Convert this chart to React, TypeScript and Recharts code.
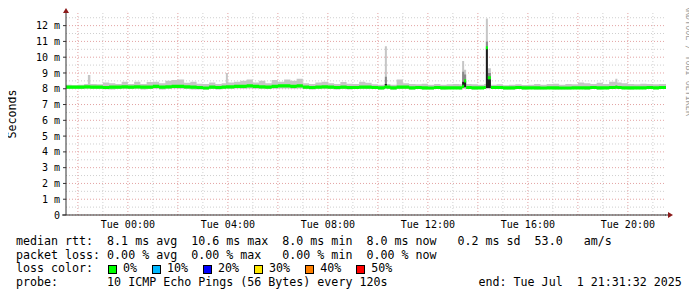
import React from "react";
import { Area, CartesianGrid, ComposedChart, ReferenceDot, XAxis, YAxis } from "recharts";

// Smokeping latency graph: 24h window ending Tue Jul 1 21:31:32.
// x = hours relative to Tue 00:00, y = milliseconds.

const hours = [
  -2.475, -2.25, -2, -1.75, -1.6, -1.5, -1.25, -1, -0.75, -0.5, -0.25,
  0, 0.25, 0.5, 0.75, 1, 1.25, 1.5, 1.75, 2, 2.25, 2.5, 2.75, 3, 3.25, 3.5, 3.75, 3.92,
  4, 4.25, 4.5, 4.75, 5, 5.25, 5.5, 5.75, 6, 6.25, 6.5, 6.75, 7, 7.25, 7.5, 7.75,
  8, 8.25, 8.5, 8.75, 9, 9.25, 9.5, 9.75, 10, 10.25, 10.28, 10.36, 10.5, 10.75, 11, 11.25, 11.5, 11.75,
  12, 12.25, 12.5, 12.75, 13, 13.25, 13.37, 13.45, 13.53, 13.75, 14, 14.25, 14.32, 14.4, 14.52, 14.75,
  15, 15.25, 15.5, 15.75, 16, 16.25, 16.5, 16.75, 17, 17.25, 17.5, 17.75,
  18, 18.25, 18.5, 18.75, 19, 19.25, 19.5, 19.58, 19.75,
  20, 20.25, 20.5, 20.75, 21, 21.25, 21.5, 21.525,
];

// outer smoke (all pings) top / bottom
const smokeHigh = [
  8.25, 8.22, 8.25, 8.3, 8.87, 8.3, 8.28, 8.4, 8.35, 8.3, 8.45,
  8.3, 8.45, 8.3, 8.42, 8.45, 8.35, 8.5, 8.55, 8.58, 8.38, 8.45, 8.32, 8.3, 8.4, 8.3, 8.35, 9.0,
  8.4, 8.45, 8.5, 8.58, 8.4, 8.5, 8.35, 8.55, 8.45, 8.58, 8.5, 8.64, 8.35, 8.3, 8.4, 8.45,
  8.35, 8.3, 8.42, 8.32, 8.3, 8.45, 8.38, 8.28, 8.25, 8.3, 10.7, 8.3, 8.25, 8.58, 8.35, 8.3, 8.28, 8.32,
  8.25, 8.3, 8.25, 8.28, 8.3, 8.28, 9.76, 9.2, 8.3, 8.28, 8.25, 8.3, 12.45, 9.3, 8.25, 8.28,
  8.22, 8.25, 8.28, 8.24, 8.26, 8.3, 8.25, 8.3, 8.32, 8.25, 8.3, 8.28,
  8.4, 8.35, 8.3, 8.38, 8.3, 8.45, 8.64, 8.4, 8.35,
  8.3, 8.28, 8.32, 8.3, 8.28, 8.3, 8.3, 8.3,
];

const smokeLow = [
  8.0, 8.0, 7.98, 8.0, 8.0, 8.0, 7.98, 7.97, 7.95, 7.98, 8.0,
  7.98, 8.0, 7.95, 7.98, 8.0, 7.95, 8.0, 8.02, 8.0, 7.98, 7.96, 7.95, 7.95, 7.98, 7.96, 8.0, 8.02,
  8.0, 8.02, 8.0, 8.02, 8.0, 8.0, 7.98, 8.0, 8.02, 8.02, 8.0, 8.02, 7.98, 7.96, 8.0, 8.0,
  7.98, 7.95, 7.98, 7.96, 7.98, 8.0, 7.98, 7.98, 7.96, 7.98, 8.0, 7.98, 7.96, 7.98, 8.0, 7.96, 7.98, 7.95,
  7.96, 7.98, 7.96, 7.98, 7.98, 7.96, 8.0, 8.0, 7.98, 7.96, 7.98, 7.98, 8.0, 8.0, 7.98, 7.98,
  7.96, 7.96, 7.98, 7.96, 7.98, 7.96, 7.95, 7.98, 7.96, 7.95, 7.96, 7.98,
  7.98, 7.96, 7.98, 7.96, 7.98, 8.0, 8.0, 7.98, 7.98,
  7.96, 7.98, 7.98, 7.98, 7.98, 8.0, 8.0, 8.0,
];

const medianRtt = [
  8.1, 8.1, 8.1, 8.12, 8.12, 8.1, 8.1, 8.08, 8.1, 8.1, 8.12,
  8.1, 8.12, 8.1, 8.1, 8.15, 8.1, 8.12, 8.15, 8.15, 8.12, 8.1, 8.08, 8.05, 8.1, 8.08, 8.1, 8.12,
  8.12, 8.15, 8.15, 8.18, 8.15, 8.12, 8.1, 8.15, 8.18, 8.18, 8.15, 8.18, 8.1, 8.08, 8.1, 8.12,
  8.1, 8.08, 8.1, 8.08, 8.08, 8.1, 8.1, 8.08, 8.06, 8.08, 8.12, 8.1, 8.06, 8.1, 8.1, 8.06, 8.08, 8.06,
  8.05, 8.08, 8.06, 8.06, 8.06, 8.06, 8.15, 8.5, 8.08, 8.06, 8.06, 8.08, 10.6, 8.7, 8.08, 8.08,
  8.06, 8.06, 8.08, 8.06, 8.06, 8.06, 8.05, 8.06, 8.06, 8.05, 8.05, 8.06,
  8.06, 8.06, 8.08, 8.06, 8.06, 8.08, 8.1, 8.08, 8.06,
  8.06, 8.06, 8.06, 8.08, 8.06, 8.08, 8.08, 8.08,
];

// denser smoke layers inside the latency spikes
const spikeStart = [10.28, 13.37, 13.45, 14.32, 14.4];
const spikeEnd = [10.36, 13.45, 13.53, 14.4, 14.52];
const spikeMidLow = [8.2, 8.45, 8.2, 10.56, 8.2];
const spikeMidHigh = [8.76, 9.08, 8.9, 11.0, 9.0];
const spikeDarkLow = [8.1, 8.1, 8.1, 8.05, 8.05];
const spikeDarkHigh = [8.3, 8.45, 8.5, 10.56, 8.6];

const yTicks = [0, 1, 2, 3, 4, 5, 6, 7, 8, 9, 10, 11, 12];
const yMinorTicks = [0.5, 1.5, 2.5, 3.5, 4.5, 5.5, 6.5, 7.5, 8.5, 9.5, 10.5, 11.5, 12.5];
const xLabelTicks = [0, 4, 8, 12, 16, 20];
const xMajorTicks = [-2, 0, 2, 4, 6, 8, 10, 12, 14, 16, 18, 20];
const xMinorTicks = [-1, 1, 3, 5, 7, 9, 11, 13, 15, 17, 19, 21];

const lossLabels = ["0%", "10%", "20%", "30%", "40%", "50%"];
const lossColors = ["#00ff00", "#00b8ff", "#0000ff", "#ffe800", "#ff8000", "#ff0000"];

const legendLines = [
  "median rtt:  8.1 ms avg  10.6 ms max  8.0 ms min  8.0 ms now   0.2 ms sd  53.0   am/s",
  "packet loss: 0.00 % avg  0.00 % max   0.00 % min  0.00 % now",
];
const probeLine = "probe:       10 ICMP Echo Pings (56 Bytes) every 120s             end: Tue Jul  1 21:31:32 2025";

const X_DOMAIN: [number, number] = [-2.475, 21.525];
const Y_DOMAIN: [number, number] = [0, 12.8];
const MONO = '"DejaVu Sans Mono", monospace';

function spikeAt(t: number): number {
  let i = spikeStart.indexOf(t);
  if (i < 0) i = spikeEnd.indexOf(t);
  return i;
}

const data = hours.map((t, i) => {
  const s = spikeAt(t);
  return {
    t,
    smoke: [smokeLow[i], smokeHigh[i]],
    mid: s >= 0 ? [spikeMidLow[s], spikeMidHigh[s]] : null,
    dark: s >= 0 ? [spikeDarkLow[s], spikeDarkHigh[s]] : null,
    median: [medianRtt[i] - 0.1, medianRtt[i] + 0.1],
  };
});

const fmtHour = (h: number) => `Tue ${String(h).padStart(2, "0")}:00`;

export default function App() {
  const arrow = "#8b1a1a";
  return (
    <div style={{ position: "relative", width: 697, height: 297, margin: -8, background: "#fff", overflow: "hidden" }}>
      <ComposedChart width={697} height={297} data={data} margin={{ top: 13, right: 31, bottom: 62, left: 16 }}>
        <XAxis
          xAxisId="t"
          dataKey="t"
          type="number"
          domain={X_DOMAIN}
          ticks={xLabelTicks}
          interval={0}
          tickFormatter={fmtHour}
          allowDataOverflow
          height={20}
          tickLine={false}
          tickSize={3}
          tickMargin={3}
          axisLine={{ stroke: "#333" }}
          tick={{ fontSize: 10, fontFamily: MONO, fill: "#000" }}
        />
        <YAxis
          yAxisId="v"
          type="number"
          domain={Y_DOMAIN}
          ticks={yTicks}
          interval={0}
          allowDataOverflow
          width={50}
          tickSize={3}
          tickMargin={3}
          tickFormatter={(v: number) => (v === 0 ? "0" : `${v} m`)}
          axisLine={{ stroke: "#333" }}
          tickLine={{ stroke: "#333" }}
          tick={{ fontSize: 10, fontFamily: MONO, fill: "#000" }}
        />
        {/* minor grid: half-millisecond rows, odd hours */}
        <CartesianGrid
          xAxisId="t"
          yAxisId="v"
          horizontalValues={yMinorTicks}
          verticalValues={xMinorTicks}
          stroke="#cfcfcf"
          strokeDasharray="1 2"
        />
        {/* major grid: whole milliseconds, even hours */}
        <CartesianGrid
          xAxisId="t"
          yAxisId="v"
          horizontalValues={yTicks}
          verticalValues={xMajorTicks}
          stroke="#e3a3a3"
          strokeDasharray="1 2"
        />
        <Area xAxisId="t" yAxisId="v" type="stepAfter" dataKey="smoke" stroke="none" fill="#c6c6c6" fillOpacity={1} isAnimationActive={false} />
        <Area xAxisId="t" yAxisId="v" type="stepAfter" dataKey="mid" stroke="none" fill="#8a8a8a" fillOpacity={1} isAnimationActive={false} />
        <Area xAxisId="t" yAxisId="v" type="stepAfter" dataKey="dark" stroke="none" fill="#1c1c1c" fillOpacity={1} isAnimationActive={false} />
        <Area xAxisId="t" yAxisId="v" type="stepAfter" dataKey="median" stroke="none" fill="#00ff00" fillOpacity={1} isAnimationActive={false} />
        <ReferenceDot
          xAxisId="t"
          yAxisId="v"
          x={X_DOMAIN[1]}
          y={0}
          ifOverflow="visible"
          shape={(p: any) => (
            <g>
              <line x1={p.cx - 1} y1={p.cy} x2={p.cx + 2} y2={p.cy} stroke="#333" />
              <path d={`M${p.cx + 2},${p.cy - 3} L${p.cx + 7},${p.cy} L${p.cx + 2},${p.cy + 3} Z`} fill={arrow} />
            </g>
          )}
        />
        <ReferenceDot
          xAxisId="t"
          yAxisId="v"
          x={X_DOMAIN[0]}
          y={Y_DOMAIN[1]}
          ifOverflow="visible"
          shape={(p: any) => (
            <path d={`M${p.cx - 3},${p.cy} L${p.cx},${p.cy - 5} L${p.cx + 3},${p.cy} Z`} fill={arrow} />
          )}
        />
        <ReferenceDot
          xAxisId="t"
          yAxisId="v"
          x={X_DOMAIN[0]}
          y={0}
          ifOverflow="visible"
          shape={(p: any) => <line x1={p.cx - 4} y1={p.cy} x2={p.cx} y2={p.cy} stroke="#333" />}
        />
      </ComposedChart>

      <div
        style={{
          position: "absolute",
          left: 12,
          top: 114,
          transform: "translate(-50%, -50%) rotate(-90deg)",
          fontFamily: MONO,
          fontSize: 11.65,
          whiteSpace: "nowrap",
          color: "#000",
        }}
      >
        Seconds
      </div>

      <div
        style={{
          position: "absolute",
          left: 684,
          top: 5,
          writingMode: "vertical-rl",
          fontFamily: MONO,
          fontSize: 8.4,
          color: "#9c9c9c",
          whiteSpace: "nowrap",
          lineHeight: "9px",
        }}
      >
        RRDTOOL / TOBI OETIKER
      </div>

      <div
        style={{
          position: "absolute",
          left: 16,
          top: 235,
          fontFamily: MONO,
          fontSize: 11.65,
          lineHeight: "13.7px",
          whiteSpace: "pre",
          color: "#000",
        }}
      >
        {legendLines.map((l) => (
          <div key={l}>{l}</div>
        ))}
        <div style={{ display: "flex", alignItems: "center", height: 13.7 }}>
          <span style={{ width: 92, display: "inline-block" }}>loss color:</span>
          {lossLabels.map((lab, i) => (
            <span key={lab} style={{ display: "inline-flex", alignItems: "center", marginRight: 15 }}>
              <span
                style={{
                  display: "inline-block",
                  width: 9,
                  height: 9,
                  boxSizing: "border-box",
                  border: "1px solid #000",
                  background: lossColors[i],
                  marginRight: 6,
                }}
              />
              {lab}
            </span>
          ))}
        </div>
        <div>{probeLine}</div>
      </div>
    </div>
  );
}
